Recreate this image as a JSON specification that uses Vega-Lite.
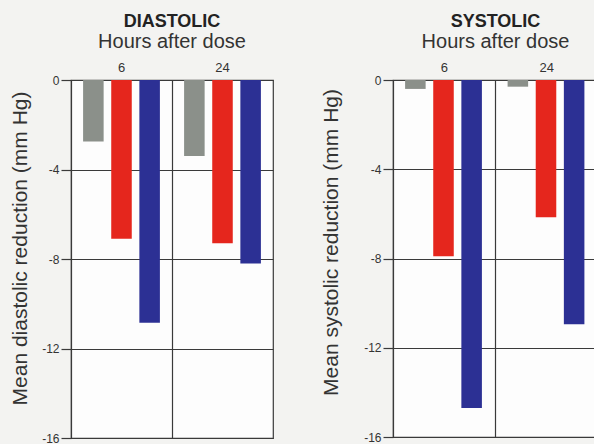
{
  "$schema": "https://vega.github.io/schema/vega-lite/v6.json",
  "background": "#f3f3f1",
  "padding": {"left": 9, "top": 12, "right": 0, "bottom": 0},
  "spacing": 46,
  "config": {
    "font": "Liberation Sans",
    "view": {"stroke": "#3a3a3a", "strokeWidth": 1.2, "fill": "#fdfdfd"},
    "axisY": {
      "domain": false,
      "tickSize": 10,
      "tickColor": "#3a3a3a",
      "tickWidth": 1.2,
      "labelFontSize": 12,
      "labelColor": "#333",
      "labelPadding": 2,
      "gridColor": "#3a3a3a",
      "gridWidth": 1.2,
      "gridOpacity": 1,
      "titleFontSize": 21,
      "titleFontWeight": "normal",
      "titleColor": "#333"
    },
    "axisX": {
      "orient": "top",
      "domain": false,
      "ticks": false,
      "labelAngle": 0,
      "labelFontSize": 13,
      "labelColor": "#333",
      "labelPadding": 6,
      "grid": true,
      "bandPosition": 0,
      "gridColor": "#3a3a3a",
      "gridWidth": 1.2,
      "gridOpacity": 1
    },
    "title": {
      "fontSize": 18,
      "fontWeight": "bold",
      "color": "#222",
      "subtitleFontSize": 20,
      "subtitleColor": "#333",
      "subtitlePadding": 1,
      "anchor": "middle",
      "offset": 9
    }
  },
  "datasets": {
    "bp": [
      {"panel": "Diastolic", "hours": "6", "trt": "A", "value": -2.75},
      {"panel": "Diastolic", "hours": "6", "trt": "B", "value": -7.1},
      {"panel": "Diastolic", "hours": "6", "trt": "C", "value": -10.85},
      {"panel": "Diastolic", "hours": "24", "trt": "A", "value": -3.4},
      {"panel": "Diastolic", "hours": "24", "trt": "B", "value": -7.3},
      {"panel": "Diastolic", "hours": "24", "trt": "C", "value": -8.2},
      {"panel": "Systolic", "hours": "6", "trt": "A", "value": -0.4},
      {"panel": "Systolic", "hours": "6", "trt": "B", "value": -7.9},
      {"panel": "Systolic", "hours": "6", "trt": "C", "value": -14.7},
      {"panel": "Systolic", "hours": "24", "trt": "A", "value": -0.3},
      {"panel": "Systolic", "hours": "24", "trt": "B", "value": -6.15},
      {"panel": "Systolic", "hours": "24", "trt": "C", "value": -10.95}
    ]
  },
  "hconcat": [
    {
      "title": {"text": "DIASTOLIC", "subtitle": "Hours after dose"},
      "width": 202,
      "height": 358,
      "data": {"name": "bp"},
      "transform": [{"filter": "datum.panel == 'Diastolic'"}],
      "mark": {"type": "bar"},
      "encoding": {
        "x": {"field": "hours", "type": "nominal", "sort": ["6", "24"], "scale": {"paddingInner": 0, "paddingOuter": 0}, "axis": {"title": null}},
        "xOffset": {"field": "trt", "type": "nominal", "sort": ["A", "B", "C"], "scale": {"paddingInner": 0.27, "paddingOuter": 0.43}},
        "y": {"field": "value", "type": "quantitative", "scale": {"domain": [-16, 0], "nice": false},
          "axis": {"values": [0, -4, -8, -12, -16], "labelExpr": "toString(datum.value)", "title": "Mean diastolic reduction (mm Hg)", "titlePadding": 11, "titleY": 168}},
        "color": {"field": "trt", "type": "nominal", "scale": {"domain": ["A", "B", "C"], "range": ["#8b908a", "#e5261d", "#2c3094"]}, "legend": null}
      }
    },
    {
      "title": {"text": "SYSTOLIC", "subtitle": "Hours after dose"},
      "width": 205,
      "height": 357,
      "data": {"name": "bp"},
      "transform": [{"filter": "datum.panel == 'Systolic'"}],
      "mark": {"type": "bar"},
      "encoding": {
        "x": {"field": "hours", "type": "nominal", "sort": ["6", "24"], "scale": {"paddingInner": 0, "paddingOuter": 0}, "axis": {"title": null}},
        "xOffset": {"field": "trt", "type": "nominal", "sort": ["A", "B", "C"], "scale": {"paddingInner": 0.25, "paddingOuter": 0.45}},
        "y": {"field": "value", "type": "quantitative", "scale": {"domain": [-16, 0], "nice": false},
          "axis": {"values": [0, -4, -8, -12, -16], "labelExpr": "toString(datum.value)", "title": "Mean systolic reduction (mm Hg)", "titlePadding": 22, "titleY": 162}},
        "color": {"field": "trt", "type": "nominal", "scale": {"domain": ["A", "B", "C"], "range": ["#8b908a", "#e5261d", "#2c3094"]}, "legend": null}
      }
    }
  ]
}
